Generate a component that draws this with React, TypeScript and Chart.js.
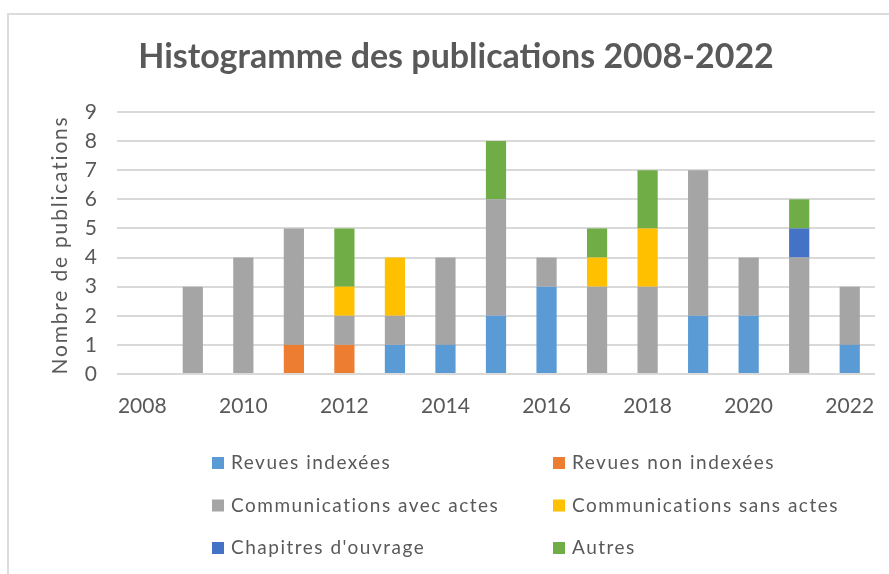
import React, { useEffect, useRef } from 'react';
import { Chart, registerables } from 'chart.js';

Chart.register(...registerables);

const years = ['2008', '2009', '2010', '2011', '2012', '2013', '2014', '2015', '2016', '2017', '2018', '2019', '2020', '2021', '2022'];
const revuesIndexees = [0, 0, 0, 0, 0, 1, 1, 2, 3, 0, 0, 2, 2, 0, 1];
const revuesNonIndexees = [0, 0, 0, 1, 1, 0, 0, 0, 0, 0, 0, 0, 0, 0, 0];
const commAvecActes = [0, 3, 4, 4, 1, 1, 3, 4, 1, 3, 3, 5, 2, 4, 2];
const commSansActes = [0, 0, 0, 0, 1, 2, 0, 0, 0, 1, 2, 0, 0, 0, 0];
const chapitres = [0, 0, 0, 0, 0, 0, 0, 0, 0, 0, 0, 0, 0, 1, 0];
const autres = [0, 0, 0, 0, 2, 0, 0, 2, 0, 1, 2, 0, 0, 1, 0];

const seriesLabels = ['Revues indexées', 'Revues non indexées', 'Communications avec actes', 'Communications sans actes', "Chapitres d'ouvrage", 'Autres'];
const seriesColors = ['#5B9BD5', '#ED7D31', '#A5A5A5', '#FFC000', '#4472C4', '#70AD47'];
const seriesData = [revuesIndexees, revuesNonIndexees, commAvecActes, commSansActes, chapitres, autres];

const titleText = 'Histogramme des publications 2008-2022';
const yAxisTitle = 'Nombre de publications';

const FONT = 'Lato, "Open Sans", sans-serif';
const TEXT = '#595959';

const titlePlugin = {
  id: 'customTitle',
  afterDraw(chart: any) {
    const ctx = chart.ctx;
    ctx.save();
    ctx.font = `bold 34px ${FONT}`;
    ctx.fillStyle = TEXT;
    ctx.textAlign = 'center';
    ctx.textBaseline = 'middle';
    ctx.fillText(titleText, 456, 57);
    ctx.restore();
  },
};

const yTitlePlugin = {
  id: 'yTitle',
  afterDraw(chart: any) {
    const ctx = chart.ctx;
    const area = chart.chartArea;
    ctx.save();
    ctx.font = `21px ${FONT}`;
    (ctx as any).letterSpacing = '1.8px';
    ctx.fillStyle = TEXT;
    ctx.textAlign = 'center';
    ctx.textBaseline = 'middle';
    ctx.translate(60, (area.top + area.bottom) / 2 + 2);
    ctx.rotate(-Math.PI / 2);
    ctx.fillText(yAxisTitle, 0, 0);
    ctx.restore();
  },
};

const legendPlugin = {
  id: 'customLegend',
  afterDraw(chart: any) {
    const ctx = chart.ctx;
    ctx.save();
    ctx.font = `19px ${FONT}`;
    (ctx as any).letterSpacing = '1.5px';
    ctx.textBaseline = 'middle';
    ctx.textAlign = 'left';
    const colX = [212, 553];
    const rowY = [463, 505.5, 548];
    chart.data.datasets.forEach((ds: any, i: number) => {
      const x = colX[i % 2];
      const y = rowY[Math.floor(i / 2)];
      ctx.fillStyle = ds.backgroundColor;
      ctx.fillRect(x, y - 6, 12, 12);
      ctx.fillStyle = TEXT;
      ctx.fillText(ds.label, x + 19, y);
    });
    ctx.restore();
  },
};

export default function App() {
  const ref = useRef<HTMLCanvasElement>(null);

  useEffect(() => {
    if (!ref.current) return;
    const chart = new Chart(ref.current, {
      type: 'bar',
      data: {
        labels: years,
        datasets: seriesLabels.map((label, i) => ({
          label,
          data: seriesData[i],
          backgroundColor: seriesColors[i],
          borderWidth: 0,
          barPercentage: 0.4,
          categoryPercentage: 1,
        })),
      },
      options: {
        responsive: false,
        animation: false,
        devicePixelRatio: 1,
        layout: { padding: { top: 112, right: 14, bottom: 155, left: 0 } },
        plugins: {
          legend: { display: false },
          title: { display: false },
          tooltip: { enabled: false },
        },
        scales: {
          x: {
            stacked: true,
            grid: { display: false },
            border: { display: false },
            ticks: {
              autoSkip: false,
              maxRotation: 0,
              minRotation: 0,
              padding: 12,
              color: TEXT,
              font: { family: FONT, size: 21 },
              callback: (_v: any, i: number) => (i % 2 === 0 ? years[i] : ''),
            },
            afterFit: (s: any) => { s.height = 45; },
          },
          y: {
            stacked: true,
            min: 0,
            max: 9,
            grid: { color: '#D9D9D9', lineWidth: 2, drawTicks: false },
            border: { display: false },
            ticks: {
              stepSize: 1,
              padding: 20,
              color: TEXT,
              font: { family: FONT, size: 21 },
            },
            afterFit: (s: any) => { s.width = 117; },
          },
        },
      },
      plugins: [titlePlugin, yTitlePlugin, legendPlugin],
    });
    return () => chart.destroy();
  }, []);

  return (
    <div style={{ position: 'fixed', left: 0, top: 0, width: 889, height: 574, overflow: 'hidden', background: '#fff' }}>
      <div style={{ position: 'absolute', left: 7, top: 13, width: 950, height: 650, border: '2px solid #DCDCDC', boxSizing: 'border-box' }} />
      <canvas ref={ref} width={889} height={574} style={{ position: 'absolute', left: 0, top: 0 }} />
    </div>
  );
}
